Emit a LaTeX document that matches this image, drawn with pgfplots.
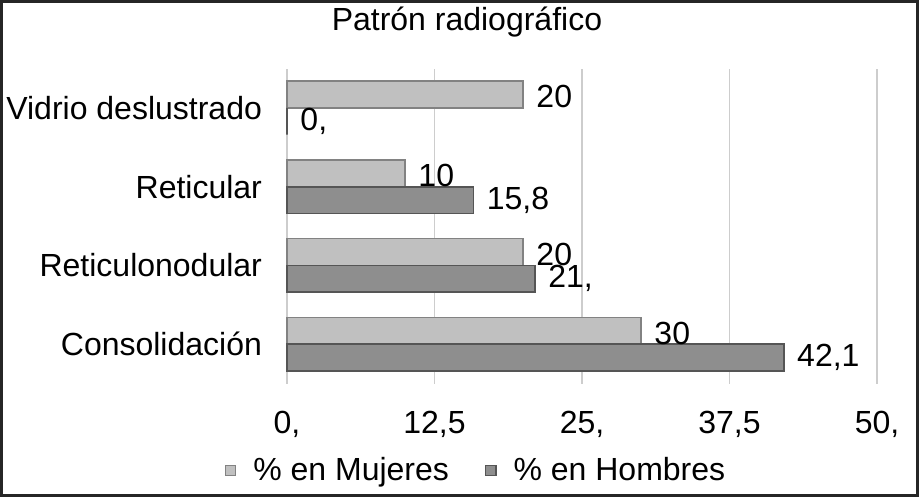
\documentclass[border=0pt]{standalone}
\usepackage{fontspec}
\setmainfont{Liberation Sans}
\usepackage{pgfplots}
\pgfplotsset{compat=1.18}
\definecolor{mujfill}{RGB}{192,192,192}
\definecolor{mujedge}{RGB}{130,130,130}
\definecolor{homfill}{RGB}{142,142,142}
\definecolor{homedge}{RGB}{85,85,85}
\definecolor{gridc}{RGB}{205,205,205}
\begin{document}
\begin{tikzpicture}
\begin{axis}[
  name=ax,
  scale only axis,
  width=295pt, height=157.5pt,
  xmin=0, xmax=50, ymin=-0.5, ymax=3.5,
  enlargelimits=false,
  clip=false,
  axis line style={draw=none},
  font=\fontsize{16pt}{19pt}\selectfont,
  xtick={0,12.5,25,37.5,50},
  xticklabels={{0,},{12,5},{25,},{37,5},{50,}},
  ytick={0,1,2,3},
  yticklabels={Consolidación,Reticulonodular,Reticular,Vidrio deslustrado},
  major tick length=0pt,
  tick style={draw=none},
  xmajorgrids,
  grid style={gridc, line width=0.75pt},
  xticklabel style={yshift=-10pt},
  yticklabel style={xshift=-9pt},
  title={Patrón radiográfico},
  title style={at={(0.305,1)}, anchor=center, yshift=17.5pt},
  xbar,
  bar width=0.34,
  bar shift=0pt,
  nodes near coords,
  point meta=explicit symbolic,
  nodes near coords style={anchor=west, xshift=3pt, text=black},
  legend columns=2,
  legend style={at={(0.322,-0.276)}, anchor=center, draw=none, fill=none,
    /tikz/every odd column/.append style={column sep=6.5pt},
    /tikz/every even column/.append style={column sep=16pt}},
  legend image code/.code={\draw[#1, line width=0.6pt] (0pt,-2.6pt) rectangle (5.2pt,2.6pt);},
]
\addplot[xbar, fill=mujfill, draw=mujedge, line width=0.8pt,
  nodes near coords style={yshift=-1.2pt}]
  coordinates {(30,0.17) [30] (20,1.17) [20] (10,2.17) [10] (20,3.17) [20]};
\addplot[xbar, fill=homfill, draw=homedge, line width=0.8pt]
  coordinates {(42.1,-0.17) [{42,1}] (21,0.83) [{21,}] (15.8,1.83) [{15,8}] (0,2.83) [{0,}]};
\legend{\% en Mujeres, \% en Hombres}
\end{axis}
\draw[line width=1.5pt, black!85] ([xshift=-142.75pt,yshift=-56pt]ax.south west) rectangle ([xshift=20.25pt,yshift=33.5pt]ax.north east);
\pgfresetboundingbox
\path[use as bounding box] ([xshift=-143.5pt,yshift=-58.3pt]ax.south west) rectangle ([xshift=22pt,yshift=34.3pt]ax.north east);
\end{tikzpicture}
\end{document}
